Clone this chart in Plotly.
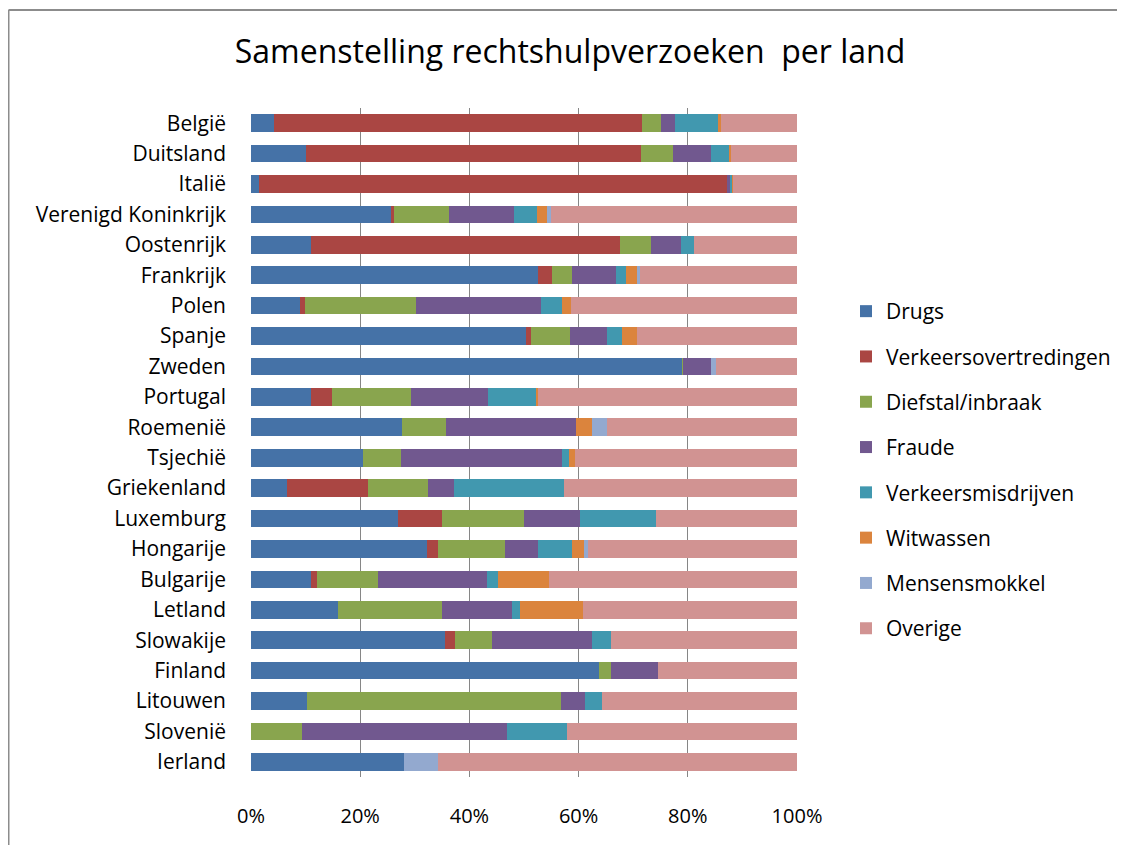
import plotly.graph_objects as go

countries = ["België", "Duitsland", "Italië", "Verenigd Koninkrijk", "Oostenrijk", "Frankrijk",
             "Polen", "Spanje", "Zweden", "Portugal", "Roemenië", "Tsjechië", "Griekenland",
             "Luxemburg", "Hongarije", "Bulgarije", "Letland", "Slowakije", "Finland",
             "Litouwen", "Slovenië", "Ierland"]

drugs = [4.2, 10.1, 1.5, 25.6, 11.0, 52.5, 9.0, 50.3, 79.1, 11.0, 27.6, 20.6, 6.6, 27.0, 32.3, 11.0, 15.9, 35.6, 63.7, 10.3, 0.0, 28.1]
verkeersovertredingen = [67.5, 61.4, 85.7, 0.5, 56.5, 2.5, 0.8, 0.9, 0.0, 3.9, 0.0, 0.0, 14.9, 8.1, 2.0, 1.0, 0.0, 1.8, 0.0, 0.0, 0.0, 0.0]
diefstal = [3.4, 5.8, 0.0, 10.1, 5.7, 3.7, 20.5, 7.1, 0.1, 14.5, 8.0, 6.8, 11.0, 14.9, 12.3, 11.3, 19.1, 6.8, 2.2, 46.4, 9.4, 0.0]
fraude = [2.6, 6.9, 0.6, 11.9, 5.5, 8.1, 22.9, 6.9, 5.0, 14.1, 23.8, 29.5, 4.7, 10.3, 5.9, 20.0, 12.8, 18.3, 8.6, 4.4, 37.6, 0.0]
verkeersmisdrijven = [8.0, 3.5, 0.3, 4.2, 2.4, 1.8, 3.7, 2.6, 0.0, 8.9, 0.0, 1.4, 20.2, 13.9, 6.2, 2.0, 1.5, 3.5, 0.0, 3.1, 10.9, 0.0]
witwassen = [0.3, 0.2, 0.2, 1.9, 0.0, 2.0, 1.7, 2.9, 0.0, 0.3, 2.9, 1.1, 0.0, 0.0, 2.2, 9.2, 11.6, 0.0, 0.0, 0.0, 0.0, 0.0]
mensensmokkel = [0.0, 0.0, 0.0, 0.7, 0.0, 0.5, 0.0, 0.0, 0.9, 0.0, 2.8, 0.0, 0.0, 0.0, 0.9, 0.0, 0.0, 0.0, 0.0, 0.0, 0.0, 6.2]
overige = [14.0, 12.1, 11.7, 45.1, 18.9, 28.8, 41.4, 29.2, 14.9, 47.4, 34.8, 40.6, 42.6, 25.9, 38.2, 45.5, 39.2, 34.0, 25.5, 35.8, 42.2, 65.7]

series_names = ["Drugs", "Verkeersovertredingen", "Diefstal/inbraak", "Fraude",
                "Verkeersmisdrijven", "Witwassen", "Mensensmokkel", "Overige"]
series_values = [drugs, verkeersovertredingen, diefstal, fraude,
                 verkeersmisdrijven, witwassen, mensensmokkel, overige]
colors = ["#4572A7", "#AA4643", "#89A54E", "#71588F", "#4198AF", "#DB843D", "#93A9CF", "#D19392"]

tick_vals = [0, 20, 40, 60, 80, 100]
tick_text = ["0%", "20%", "40%", "60%", "80%", "100%"]

FONT = "Open Sans"

fig = go.Figure()
for name, vals, col in zip(series_names, series_values, colors):
    fig.add_trace(go.Bar(
        y=countries, x=vals, name=name, orientation="h",
        marker=dict(color=col, line=dict(width=0)),
        width=0.58, legendgroup=name,
    ))

# page body adds an 8px margin on every side; keep the figure inside the window
OFF = 8
W, H = 1125 - 2 * OFF, 853 - 2 * OFF
L = 251 - OFF
T = 108 - OFF
R = W - (797 - OFF)
B = H - (777 - OFF)
pw, ph = W - L - R, H - T - B

def px_x(px):  # reference page pixel -> paper x
    return (px - OFF - L) / pw

def px_y(py):  # reference page pixel -> paper y
    return (H - B - (py - OFF)) / ph

fig.update_layout(
    width=W, height=H,
    barmode="stack", barnorm="percent",
    margin=dict(l=L, r=R, t=T, b=B, autoexpand=False),
    paper_bgcolor="white", plot_bgcolor="white",
    font=dict(family=FONT, color="black", size=20),
    title=dict(text="Samenstelling rechtshulpverzoeken  per land",
               x=(570 - OFF) / W, xanchor="center", y=1 - (52 - OFF) / H, yanchor="middle",
               font=dict(family=FONT, size=32, color="black")),
    showlegend=True,
    legend=dict(x=px_x(846), xanchor="left", y=px_y(291), yanchor="top",
                traceorder="grouped", tracegroupgap=15,
                font=dict(family=FONT, size=21, color="black"),
                bgcolor="rgba(0,0,0,0)", itemwidth=30),
    xaxis=dict(range=[0, 100], tickvals=tick_vals, ticktext=tick_text,
               showgrid=True, gridcolor="#868686", gridwidth=1,
               zeroline=False, showline=False, ticks="", ticklabelstandoff=25,
               tickfont=dict(family=FONT, size=20, color="black"), fixedrange=True,
               automargin=False),
    yaxis=dict(categoryorder="array", categoryarray=countries, autorange="reversed",
               showgrid=False, showline=False, zeroline=False, ticks="",
               ticklabelstandoff=24, automargin=False,
               tickfont=dict(family=FONT, size=21, color="black")),
    bargap=0.42,
)

# outer chart frame: only left and top edges are inside the canvas
frame = dict(color="#8C8C8C", width=2)
fig.add_shape(type="line", xref="paper", yref="paper",
              x0=(0.5 - L) / pw, x1=(0.5 - L) / pw,
              y0=(-B) / ph, y1=(H - B - 2) / ph, line=frame, layer="below")
fig.add_shape(type="line", xref="paper", yref="paper",
              x0=(0.5 - L) / pw, x1=(W - L) / pw,
              y0=(H - B - 2) / ph, y1=(H - B - 2) / ph, line=frame, layer="below")

fig.write_html("out.html", config={"displayModeBar": False},
               post_script="document.documentElement.style.overflow='hidden';"
                           "document.body.style.overflow='hidden';")
